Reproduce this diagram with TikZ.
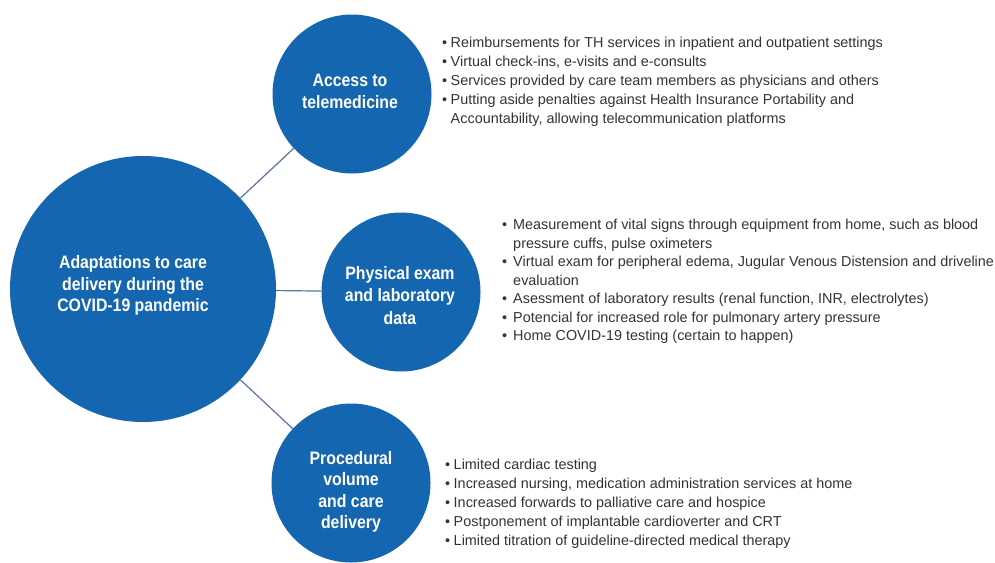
\documentclass[tikz,border=0pt]{standalone}
\usepackage{fontspec}
\setmainfont{Liberation Sans}
\newfontfamily\hubfont{Liberation Sans}[FakeStretch=0.88]
\usepackage{xcolor}
\definecolor{hubblue}{RGB}{20,102,176}
\definecolor{linkgray}{RGB}{90,115,160}
\definecolor{listgray}{RGB}{50,50,58}

\begin{document}
\begin{tikzpicture}[x=1pt, y=-1pt,
    hub/.style={circle, fill=hubblue, inner sep=0pt},
    bigHub/.style={hub, minimum size=266pt},
    subHub/.style={hub, minimum size=159pt},
    hubText/.style={text=white, align=center, inner sep=0pt,
        font=\hubfont\bfseries\fontsize{18}{21.5}\selectfont},
    link/.style={draw=linkgray, line width=1.2pt},
    list/.style={anchor=base west, inner sep=0pt, text=listgray,
        font=\fontsize{14.4}{19}\selectfont}]
    \useasboundingbox (0,0) rectangle (995,562);

    % centre and the three branches
    \node[bigHub] (Adapt) at (143,289) {};
    \node[subHub] (Tele) at (352,94) {};
    \node[subHub] (Exam) at (401,292) {};
    \node[subHub] (Proc) at (351,483) {};

    \draw[link] (Adapt) -- (Tele);
    \draw[link] (Adapt) -- (Exam);
    \draw[link] (Adapt) -- (Proc);

    \node[hubText] (AdaptText) at (133,285.5) {Adaptations to care\\delivery during the\\COVID-19 pandemic};
    \node[hubText] (TeleText) at (350,91.5) {Access to\\telemedicine};
    \node[hubText, font=\hubfont\bfseries\fontsize{18}{22.5}\selectfont] (ExamText) at (400,295.5) {Physical exam\\and laboratory\\data};
    \node[hubText] (ProcText) at (351,492) {Procedural\\volume\\and care\\delivery};

    % bullet lists
    \node[list] (TeleList) at (442,47) {\begin{tabular}[t]{@{}c@{\hspace{3.5pt}}l@{}}
        \textbullet & Reimbursements for TH services in inpatient and outpatient settings\\
        \textbullet & Virtual check-ins, e-visits and e-consults\\
        \textbullet & Services provided by care team members as physicians and others\\
        \textbullet & Putting aside penalties against Health Insurance Portability and\\
                    & Accountability, allowing telecommunication platforms
    \end{tabular}};

    \node[list, font=\fontsize{14.4}{18.5}\selectfont] (ExamList) at (502,229.5) {\begin{tabular}[t]{@{}c@{\hspace{6pt}}l@{}}
        \textbullet & Measurement of vital signs through equipment from home, such as blood\\
                    & pressure cuffs, pulse oximeters\\
        \textbullet & Virtual exam for peripheral edema, Jugular Venous Distension and driveline\\
                    & evaluation\\
        \textbullet & Asessment of laboratory results (renal function, INR, electrolytes)\\
        \textbullet & Potencial for increased role for pulmonary artery pressure\\
        \textbullet & Home COVID-19 testing (certain to happen)
    \end{tabular}};

    \node[list] (ProcList) at (445,469) {\begin{tabular}[t]{@{}c@{\hspace{3.5pt}}l@{}}
        \textbullet & Limited cardiac testing\\
        \textbullet & Increased nursing, medication administration services at home\\
        \textbullet & Increased forwards to palliative care and hospice\\
        \textbullet & Postponement of implantable cardioverter and CRT\\
        \textbullet & Limited titration of guideline-directed medical therapy
    \end{tabular}};
\end{tikzpicture}
\end{document}
